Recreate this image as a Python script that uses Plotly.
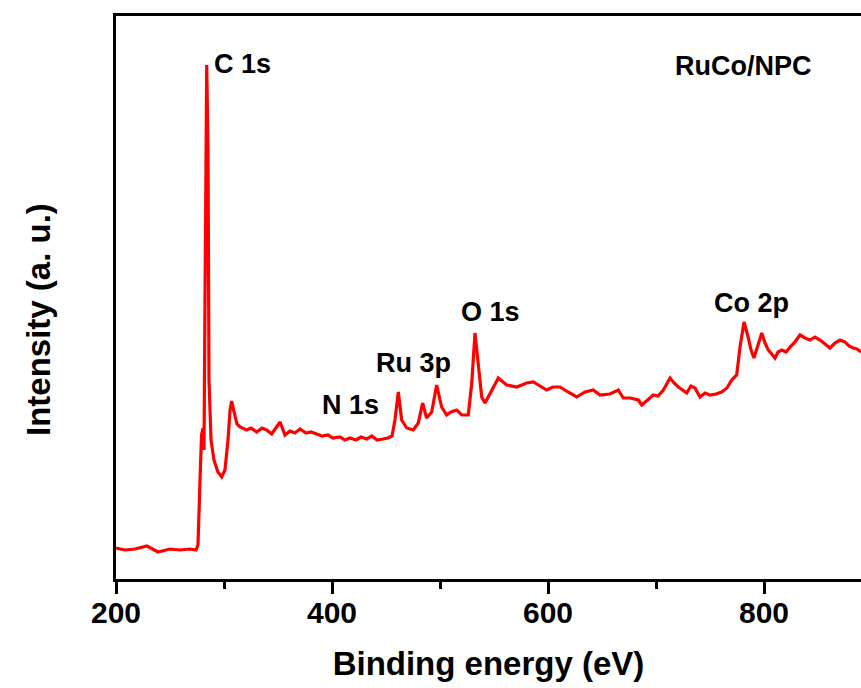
import plotly.graph_objects as go

# Binding energy (eV) and intensity (a.u.)
energy = [200, 208.3, 217.6, 228.7, 238.9, 250, 259.3, 268.5, 274.1, 275.9,
          277.8, 279.2, 280.6, 281.5, 282.4, 284.0, 285.2, 286.1, 288.0, 290.7,
          294.4, 297.9, 300.9, 303.7, 305.6, 307.1, 309.3, 312.0, 314.8, 321.0,
          325.0, 330.3, 335.2, 339.5, 344.2, 348.1, 351.9, 356.5, 361.1, 365.7,
          370.4, 375.9, 380.6, 385.8, 390.7, 396.3, 400.9, 407.4, 412.0, 416.7,
          422.2, 426.9, 432.1, 436.9, 441.7, 447.2, 451.9, 455.6, 458.3, 461.4,
          464.5, 469.2, 475.3, 479.9, 483.9, 487.6, 492.3, 496.9, 501.5, 506.2,
          510.2, 515.5, 520.1, 526.2, 529.4, 532.4, 535.5, 538.6, 541.7, 547.9,
          554.0, 561.8, 571.0, 580.3, 586.4, 592.6, 598.8, 604.6, 611.1, 618.5,
          626.6, 634.3, 641.9, 648.1, 657.4, 665.1, 669.7, 675.9, 683.6, 686.8,
          691.7, 697.5, 701.9, 706.8, 713.0, 716.7, 720.7, 725.0, 728.4, 732.4,
          736.1, 740.7, 745.4, 750.0, 755.6, 760.8, 765.7, 770.1, 774.7, 777.8,
          781.5, 785.5, 788.0, 790.7, 794.4, 797.9, 800.9, 804.0, 810.2, 813.0,
          816.4, 820.4, 824.1, 828.7, 833.3, 838.0, 842.6, 847.2, 851.9, 856.5,
          861.1, 865.7, 870.4, 875.0, 878.7, 882.7, 886.1, 889.8]
intensity = [31, 29, 30, 33, 27, 30, 29, 30, 29, 34,
             99, 144, 151, 129, 279, 514, 429, 199, 139, 119,
             107, 102, 109, 139, 169, 178, 167, 155, 152, 149,
             151, 147, 151, 149, 145, 151, 157, 144, 148, 146,
             150, 146, 147, 145, 143, 144, 141, 142, 139, 141,
             139, 142, 140, 143, 139, 140, 141, 143, 159, 187,
             159, 151, 149, 156, 176, 161, 167, 194, 172, 164,
             167, 169, 164, 164, 196, 246, 212, 182, 176, 189,
             201, 194, 192, 196, 197, 193, 189, 192, 192, 187,
             182, 187, 189, 184, 185, 189, 181, 181, 179, 174,
             179, 184, 183, 189, 201, 196, 192, 189, 186, 193,
             191, 182, 186, 184, 185, 187, 191, 199, 204, 232,
             257, 241, 229, 221, 234, 246, 236, 229, 221, 227,
             229, 227, 232, 237, 244, 241, 239, 242, 239, 235,
             231, 236, 239, 237, 233, 231, 230, 227]

label_text = ["C 1s", "N 1s", "Ru 3p", "O 1s", "Co 2p", "RuCo/NPC"]
label_x = [316.7, 416.7, 475.0, 546.3, 788.6, 780.6]
label_y = [515, 174, 216, 267.5, 276.5, 513]

FONT = "Arial, Liberation Sans, sans-serif"

fig = go.Figure()
fig.add_trace(go.Scatter(x=energy, y=intensity, mode="lines",
                         line=dict(color="#ff0000", width=3.2),
                         showlegend=False, hoverinfo="skip"))

for t, x, y in zip(label_text, label_x, label_y):
    fig.add_annotation(x=x, y=y, xref="x", yref="y", text=t, showarrow=False,
                       xanchor="center", yanchor="middle",
                       font=dict(family=FONT, size=27, color="black", weight="bold"))

# y-axis title placed as rotated text
fig.add_annotation(x=-0.1047, y=0.4618, xref="paper", yref="paper",
                   text="Intensity (a. u.)", textangle=-90, showarrow=False,
                   xanchor="center", yanchor="middle",
                   font=dict(family=FONT, size=33, color="black", weight="bold"))

fig.update_layout(
    width=861, height=688,
    margin=dict(l=116, r=0, t=16, b=109),
    paper_bgcolor="white", plot_bgcolor="white",
    font=dict(family=FONT, color="black"),
    xaxis=dict(
        range=[200, 889.8], showgrid=False, zeroline=False,
        showline=True, linecolor="black", linewidth=3, mirror=True,
        ticks="outside", ticklen=12, tickwidth=3, tickcolor="black",
        tick0=200, dtick=200, ticklabelstandoff=-7,
        minor=dict(ticks="outside", ticklen=7, tickwidth=3, tickcolor="black",
                   tick0=200, dtick=100),
        tickfont=dict(family=FONT, size=30, color="black", weight="bold"),
        title=dict(text="Binding energy (eV)", standoff=24,
                   font=dict(family=FONT, size=33, color="black", weight="bold")),
    ),
    yaxis=dict(
        range=[0, 563], showgrid=False, zeroline=False,
        showline=True, linecolor="black", linewidth=3, mirror=False,
        ticks="", showticklabels=False,
    ),
)

fig.write_html("out.html")
